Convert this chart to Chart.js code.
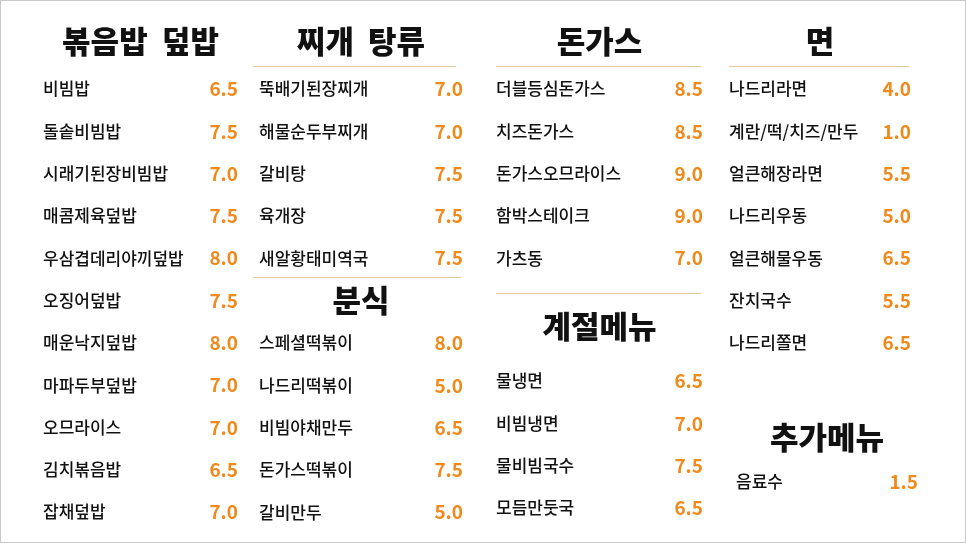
<!DOCTYPE html>
<html><head><meta charset="utf-8">
<script src="https://cdn.jsdelivr.net/npm/chart.js@4"></script>
<style>html,body{margin:0;padding:0;background:#fff}#w{width:966px;height:543px;box-sizing:border-box;border:1px solid #c8c8c8}</style>
</head><body><div id="w"><canvas id="c"></canvas></div>
<script>
const friedNames=["비빔밥","돌솥비빔밥","시래기된장비빔밥","매콤제육덮밥","우삼겹데리야끼덮밥","오징어덮밥","매운낙지덮밥","마파두부덮밥","오므라이스","김치볶음밥","잡채덮밥"];
const friedPrices=[6.5,7.5,7.0,7.5,8.0,7.5,8.0,7.0,7.0,6.5,7.0];
const stewNames=["뚝배기된장찌개","해물순두부찌개","갈비탕","육개장","새알황태미역국"];
const stewPrices=[7.0,7.0,7.5,7.5,7.5];
const snackNames=["스페셜떡볶이","나드리떡볶이","비빔야채만두","돈가스떡볶이","갈비만두"];
const snackPrices=[8.0,5.0,6.5,7.5,5.0];
const katsuNames=["더블등심돈가스","치즈돈가스","돈가스오므라이스","함박스테이크","가츠동"];
const katsuPrices=[8.5,8.5,9.0,9.0,7.0];
const seasonNames=["물냉면","비빔냉면","물비빔국수","모듬만둣국"];
const seasonPrices=[6.5,7.0,7.5,6.5];
const noodleNames=["나드리라면","계란/떡/치즈/만두","얼큰해장라면","나드리우동","얼큰해물우동","잔치국수","나드리쫄면"];
const noodlePrices=[4.0,1.0,5.5,5.0,6.5,5.5,6.5];
const extraNames=["음료수"];
const extraPrices=[1.5];
const headers=["볶음밥  덮밥","찌개  탕류","분식","돈가스","계절메뉴","면","추가메뉴"];

// sections: [title, names, prices, x-left, x-right, headerY, firstRowY, line before header?]
const sections=[
 {t:headers[0],n:friedNames,p:friedPrices,l:42,r:237,hy:40,y0:88,line:null,hl:null},
 {t:headers[1],n:stewNames,p:stewPrices,l:258,r:462,hy:40,y0:88,line:null,hl:[252,455,65]},
 {t:headers[2],n:snackNames,p:snackPrices,l:258,r:462,hy:299,y0:342,line:[252,460,276]},
 {t:headers[3],n:katsuNames,p:katsuPrices,l:495,r:702,hy:40,y0:88,line:null,hl:[495,700,65]},
 {t:headers[4],n:seasonNames,p:seasonPrices,l:495,r:702,hy:325,y0:380,line:[495,700,292]},
 {t:headers[5],n:noodleNames,p:noodlePrices,l:728,r:910,hy:40,y0:88,line:null,hl:[728,908,65]},
 {t:headers[6],n:extraNames,p:extraPrices,l:735,r:917,hy:436,y0:481,line:null,hl:null}
];
const STEP=42.3;
const menuPlugin={id:'menu',afterDraw(ch){
 const c=ch.ctx;c.save();
 c.fillStyle='#fff';
 const font="'Noto Sans CJK KR','Noto Sans',sans-serif";
 sections.forEach(s=>{
  c.strokeStyle='#e2c9a8';c.lineWidth=1;
  [s.line,s.hl].forEach(L=>{if(L){c.beginPath();c.moveTo(L[0],L[2]+0.5);c.lineTo(L[1],L[2]+0.5);c.stroke();}});
  c.fillStyle='#111';c.font="900 31px "+font;c.textAlign='center';c.textBaseline='middle';
  c.fillText(s.t,(s.l+s.r)/2,s.hy);
  s.n.forEach((nm,i)=>{
   const y=s.y0+i*STEP;
   c.fillStyle='#111';c.font="500 17px "+font;c.textAlign='left';
   c.fillText(nm,s.l,y);
   c.fillStyle='#f08a1c';c.font="bold 19px "+font;c.textAlign='right';
   c.fillText(s.p[i].toFixed(1),s.r,y);
  });
 });
 c.restore();
}};
new Chart(document.getElementById('c'),{type:'scatter',data:{datasets:[{data:[]}]},
 options:{responsive:true,maintainAspectRatio:false,animation:false,
 plugins:{legend:{display:false},tooltip:{enabled:false}},
 scales:{x:{display:false},y:{display:false}}},plugins:[menuPlugin]});
</script></body></html>
